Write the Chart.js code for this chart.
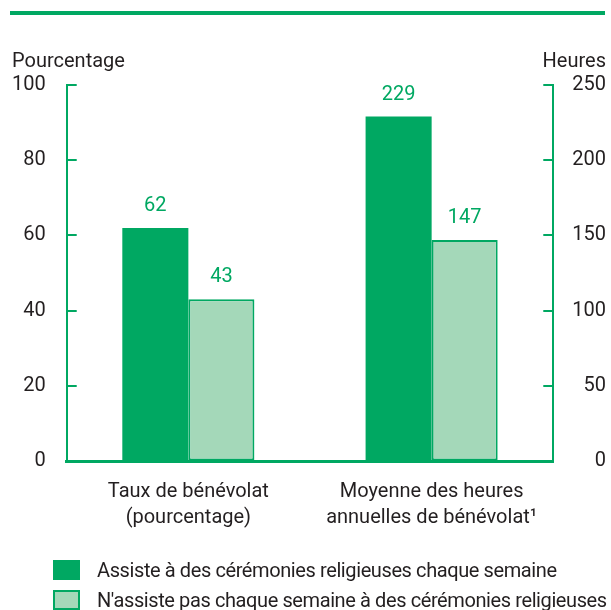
<!DOCTYPE html>
<html>
<head>
<meta charset="utf-8">
<script src="https://cdn.jsdelivr.net/npm/chart.js@4.4.0/dist/chart.umd.min.js"></script>
<style>
  body { margin: 0; background: #fff; }
  #wrap { position: relative; width: 611px; height: 610px; overflow: hidden; }
  #legende { position: absolute; left: 53px; top: 555px; font-family: Roboto, sans-serif; font-size: 20px; color: #231f20; white-space: nowrap; letter-spacing: -0.4px; }
  .item { display: flex; align-items: center; height: 30px; }
  .boite { width: 27px; height: 20px; box-sizing: border-box; margin-right: 17px; flex: none; }
</style>
</head>
<body>
<div id="wrap">
  <canvas id="graphique" width="611" height="610"></canvas>
  <div id="legende"></div>
</div>
<script>
const categories = [["Taux de bénévolat", "(pourcentage)"], ["Moyenne des heures", "annuelles de bénévolat¹"]];
const seriesNoms = ["Assiste à des cérémonies religieuses chaque semaine", "N'assiste pas chaque semaine à des cérémonies religieuses"];
const chaqueSemaine = [62, 229];
const pasChaqueSemaine = [43, 147];
const ticksPourcentage = [0, 20, 40, 60, 80, 100];
const ticksHeures = [0, 50, 100, 150, 200, 250];

const vert = "#00a862";
const vertPale = "#a4d8b9";
const texte = "#231f20";
const police = "Roboto, sans-serif";

// chaque groupe a son propre axe : la première catégorie à gauche, la deuxième à droite
function jeu(nom, valeurs, i, axe, fond, bord) {
  const data = valeurs.map((v, j) => (j == i ? v : null));
  return {
    label: nom,
    data: data,
    yAxisID: axe,
    backgroundColor: fond,
    borderColor: bord,
    borderWidth: fond == vert ? 0 : 2,
    borderSkipped: false,
    skipNull: true,
    categoryPercentage: 0.543,
    barPercentage: 1.0,
  };
}

const datasets = [
  jeu(seriesNoms[0], chaqueSemaine, 0, "y", vert, vert),
  jeu(seriesNoms[0], chaqueSemaine, 1, "y1", vert, vert),
  jeu(seriesNoms[1], pasChaqueSemaine, 0, "y", vertPale, vert),
  jeu(seriesNoms[1], pasChaqueSemaine, 1, "y1", vertPale, vert),
];

const decor = {
  id: "decor",
  beforeDraw(chart) {
    const ctx = chart.ctx;
    ctx.save();
    ctx.fillStyle = vert;
    ctx.fillRect(10, 11, 595, 4);
    ctx.fillStyle = texte;
    ctx.font = "20px " + police;
    ctx.textBaseline = "alphabetic";
    ctx.textAlign = "left";
    ctx.fillText("Pourcentage", 12, 67);
    ctx.textAlign = "right";
    ctx.fillText("Heures", 606, 67);
    ctx.restore();
  },
  afterDraw(chart) {
    const ctx = chart.ctx;
    const area = chart.chartArea;
    ctx.save();
    ctx.strokeStyle = vert;
    ctx.lineWidth = 2;
    // petites graduations tournées vers l'intérieur
    chart.scales.y.ticks.forEach((t) => {
      if (t.value == 0) return;
      const py = Math.round(chart.scales.y.getPixelForValue(t.value));
      ctx.beginPath();
      ctx.moveTo(area.left, py);
      ctx.lineTo(area.left + 10, py);
      ctx.stroke();
    });
    chart.scales.y1.ticks.forEach((t) => {
      if (t.value == 0) return;
      const py = Math.round(chart.scales.y1.getPixelForValue(t.value));
      ctx.beginPath();
      ctx.moveTo(area.right, py);
      ctx.lineTo(area.right - 10, py);
      ctx.stroke();
    });
    // valeurs au-dessus des barres
    ctx.fillStyle = vert;
    ctx.font = "20px " + police;
    ctx.textAlign = "center";
    ctx.textBaseline = "middle";
    chart.data.datasets.forEach((ds, i) => {
      chart.getDatasetMeta(i).data.forEach((bar, j) => {
        if (ds.data[j] == null) return;
        ctx.fillText(ds.data[j], bar.x, bar.y - 22);
      });
    });
    ctx.restore();
  },
};

new Chart(document.getElementById("graphique"), {
  type: "bar",
  data: { labels: categories, datasets: datasets },
  options: {
    responsive: false,
    animation: false,
    layout: { padding: { top: 85, left: -9, right: 5, bottom: 61 } },
    plugins: { legend: { display: false }, tooltip: { enabled: false } },
    scales: {
      x: {
        grid: { drawOnChartArea: false, drawTicks: false },
        border: { color: vert, width: 3 },
        ticks: { color: texte, font: { family: police, size: 20, lineHeight: 1.3 }, padding: 18, maxRotation: 0, minRotation: 0, autoSkip: false },
      },
      y: {
        position: "left",
        min: 0,
        max: 100,
        afterBuildTicks: (s) => { s.ticks = ticksPourcentage.map((v) => ({ value: v })); },
        grid: { drawOnChartArea: false, drawTicks: false },
        border: { color: vert, width: 2 },
        ticks: { color: texte, font: { family: police, size: 20 }, padding: 21 },
      },
      y1: {
        position: "right",
        min: 0,
        max: 250,
        afterBuildTicks: (s) => { s.ticks = ticksHeures.map((v) => ({ value: v })); },
        grid: { drawOnChartArea: false, drawTicks: false },
        border: { color: vert, width: 2 },
        ticks: { color: texte, font: { family: police, size: 20 }, padding: 9.5, crossAlign: "far" },
      },
    },
  },
  plugins: [decor],
});

// légende
const legende = document.getElementById("legende");
[[seriesNoms[0], vert], [seriesNoms[1], vertPale]].forEach(([nom, couleur]) => {
  const item = document.createElement("div");
  item.className = "item";
  const boite = document.createElement("span");
  boite.className = "boite";
  boite.style.background = couleur;
  boite.style.border = "2px solid " + vert;
  const lib = document.createElement("span");
  lib.textContent = nom;
  item.appendChild(boite);
  item.appendChild(lib);
  legende.appendChild(item);
});
</script>
</body>
</html>
